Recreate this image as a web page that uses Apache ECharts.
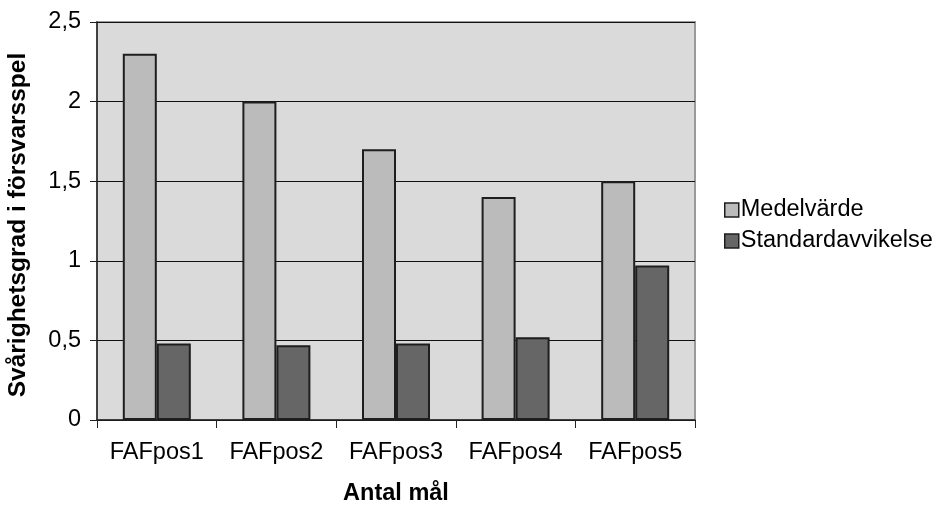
<!DOCTYPE html>
<html>
<head>
<meta charset="utf-8">
<script src="https://cdn.jsdelivr.net/npm/echarts@6/dist/echarts.min.js"></script>
<style>
  html, body { margin: 0; padding: 0; background: #ffffff; }
  #chart { width: 938px; height: 506px; }
</style>
</head>
<body>
<div id="chart"></div>
<script>
// Kategorier och serievärden
const categories = ['FAFpos1', 'FAFpos2', 'FAFpos3', 'FAFpos4', 'FAFpos5'];
const medelvarde = [2.3, 2.0, 1.7, 1.4, 1.5];
const standardavvikelse = [0.48, 0.47, 0.48, 0.52, 0.97];
const yTicks = [0, 0.5, 1, 1.5, 2, 2.5];

const font = '"Liberation Sans", Arial, sans-serif';

const chart = echarts.init(document.getElementById('chart'), null, { renderer: 'canvas' });

chart.setOption({
  animation: false,
  backgroundColor: '#ffffff',
  textStyle: { fontFamily: font },
  grid: {
    left: 97, right: 243, top: 22, bottom: 86,
    outerBoundsMode: 'none',
    containLabel: false,
    show: true,
    backgroundColor: '#dadada',
    borderColor: '#9a9a9a',
    borderWidth: 2
  },
  legend: {
    orient: 'vertical',
    left: 719, top: 193,
    icon: 'rect',
    itemWidth: 14, itemHeight: 14,
    itemGap: 7,
    itemStyle: { borderColor: '#1e1e1e', borderWidth: 1.5 },
    textStyle: { fontSize: 23.5, color: '#000', fontFamily: font, padding: [0, 0, 0, -3] },
    data: ['Medelvärde', 'Standardavvikelse']
  },
  xAxis: {
    type: 'category',
    data: categories,
    name: 'Antal mål',
    nameLocation: 'middle',
    nameGap: 62,
    nameTextStyle: { fontSize: 23.5, fontWeight: 'bold', color: '#000', fontFamily: font },
    axisLine: { lineStyle: { color: '#222', width: 1.5 } },
    axisTick: { show: true, length: 8, inside: false, lineStyle: { color: '#222' } },
    axisLabel: { interval: 0, hideOverlap: false, fontSize: 23.5, color: '#000', margin: 21, fontFamily: font },
    splitLine: { show: false }
  },
  yAxis: {
    type: 'value',
    min: yTicks[0],
    max: yTicks[yTicks.length - 1],
    interval: 0.5,
    name: 'Svårighetsgrad i försvarsspel',
    nameLocation: 'middle',
    nameGap: 66,
    nameRotate: 90,
    nameTextStyle: {
      fontSize: 24.5, fontWeight: 'bold', color: '#000', fontFamily: font,
      padding: [0, 8, 0, 0]
    },
    axisLine: { show: true, lineStyle: { color: '#222', width: 1.5 } },
    axisTick: { show: true, length: 7, lineStyle: { color: '#222' } },
    axisLabel: {
      fontSize: 23.5, color: '#000', margin: 16, fontFamily: font,
      formatter: v => String(v).replace('.', ',')
    },
    splitLine: { show: true, lineStyle: { color: '#111', width: 1 } }
  },
  series: [
    {
      name: 'Medelvärde',
      type: 'bar',
      data: medelvarde,
      barWidth: 34,
      barGap: '0%',
      itemStyle: { color: '#bbbbbb', borderColor: '#1e1e1e', borderWidth: 2 }
    },
    {
      name: 'Standardavvikelse',
      type: 'bar',
      data: standardavvikelse,
      barWidth: 34,
      barGap: '0%',
      itemStyle: { color: '#666666', borderColor: '#1e1e1e', borderWidth: 2 }
    }
  ]
});
</script>
</body>
</html>
